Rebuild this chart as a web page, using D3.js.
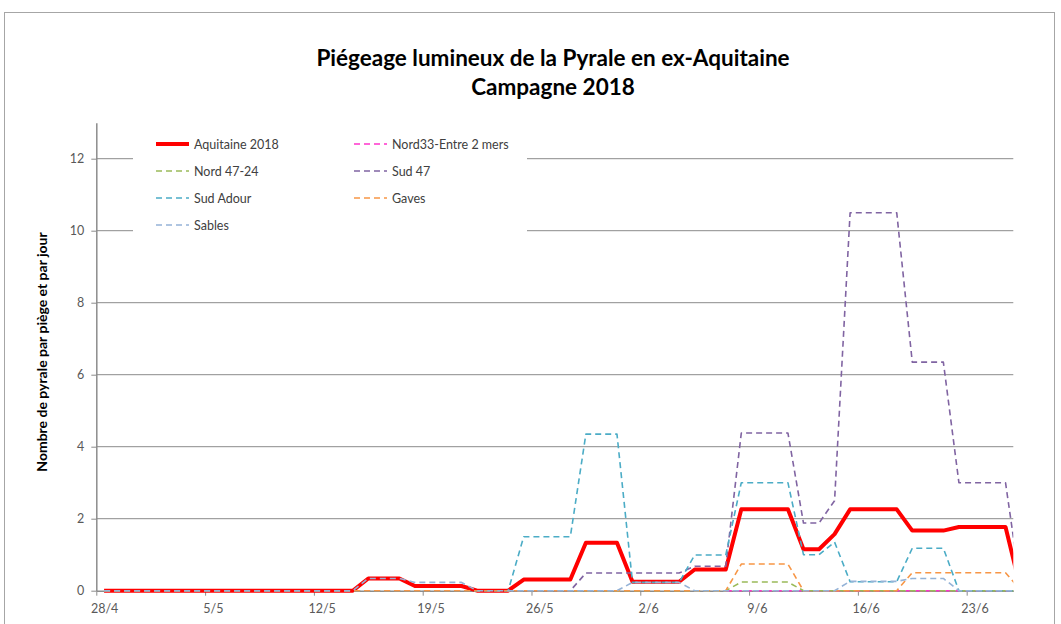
<!DOCTYPE html>
<html>
<head>
<meta charset="utf-8">
<script src="https://cdnjs.cloudflare.com/ajax/libs/d3/7.8.5/d3.min.js"></script>
<style>
    body { margin: 0; background: #fff; }
    svg { font-family: Lato, "Open Sans", sans-serif; }
</style>
</head>
<body>
<div id="chart"></div>
<script>
var titleLines = ["Piégeage lumineux de la Pyrale en ex-Aquitaine", "Campagne 2018"];
var yLabel = "Nombre de pyrale par piège et par jour";

var seriesNames = ["Aquitaine 2018", "Nord33-Entre 2 mers", "Nord 47-24", "Sud 47", "Sud Adour", "Gaves", "Sables"];
var seriesColors = ["#ff0000", "#ff33cc", "#9bbb59", "#8064a2", "#4bacc6", "#f79646", "#95b3d7"];
var yTicks = [0, 2, 4, 6, 8, 10, 12];

// one value per day, 28/4 -> 26/6
var aquitaine = [0, 0, 0, 0, 0, 0, 0, 0, 0, 0, 0, 0, 0, 0, 0, 0, 0,
    0.34, 0.34, 0.34, 0.13, 0.13, 0.13, 0.13, 0, 0, 0,
    0.31, 0.31, 0.31, 0.31, 1.33, 1.33, 1.33, 0.25, 0.25, 0.25, 0.25,
    0.59, 0.59, 0.59, 2.26, 2.26, 2.26, 2.26, 1.15, 1.15, 1.57,
    2.26, 2.26, 2.26, 2.26, 1.67, 1.67, 1.67, 1.77, 1.77, 1.77, 1.77, 0];
var nord33 = [null, null, null, null, null, null, null, null, null, null,
    null, null, null, null, null, null, null, null, null, null,
    null, null, null, null, null, null, null, null, null, null,
    null, null, null, null, null, null, null, null, null, null,
    0, 0, 0, 0, 0, 0, 0, 0, 0, 0, 0, 0, 0, 0, 0, 0, 0, 0, 0, 0];
var nord4724 = [0, 0, 0, 0, 0, 0, 0, 0, 0, 0, 0, 0, 0, 0, 0, 0, 0, 0, 0, 0,
    0, 0, 0, 0, 0, 0, 0, 0, 0, 0, 0, 0, 0, 0, 0, 0, 0, 0, 0, 0, 0,
    0.24, 0.24, 0.24, 0.24, 0, 0, 0, 0, 0, 0, 0, 0, 0, 0, 0, 0, 0, 0, 0, 0];
var sud47 = [0, 0, 0, 0, 0, 0, 0, 0, 0, 0, 0, 0, 0, 0, 0, 0, 0, 0, 0, 0,
    0, 0, 0, 0, 0, 0, 0, 0, 0, 0, 0,
    0.49, 0.49, 0.49, 0.49, 0.49, 0.49, 0.49, 0.68, 0.68, 0.68,
    4.38, 4.38, 4.38, 4.38, 1.88, 1.88, 2.5,
    10.5, 10.5, 10.5, 10.5, 6.35, 6.35, 6.35, 3.0, 3.0, 3.0, 3.0, 0];
var sudAdour = [0, 0, 0, 0, 0, 0, 0, 0, 0, 0, 0, 0, 0, 0, 0, 0, 0, 0, 0, 0,
    0, 0, 0, 0, 0, 0, 0,
    1.5, 1.5, 1.5, 1.5, 4.35, 4.35, 4.35, 0.23, 0.23, 0.23, 0.23,
    0.99, 0.99, 0.99, 3.0, 3.0, 3.0, 3.0, 1.0, 1.0, 1.35,
    0.25, 0.25, 0.25, 0.25, 1.18, 1.18, 1.18, 0, 0, 0, 0, 0];
var gaves = [0, 0, 0, 0, 0, 0, 0, 0, 0, 0, 0, 0, 0, 0, 0, 0, 0, 0, 0, 0,
    0, 0, 0, 0, 0, 0, 0, 0, 0, 0, 0, 0, 0, 0, 0, 0, 0, 0, 0, 0, 0,
    0.74, 0.74, 0.74, 0.74, 0, 0, 0, 0, 0, 0, 0,
    0.5, 0.5, 0.5, 0.5, 0.5, 0.5, 0.5, 0];
var sables = [0, 0, 0, 0, 0, 0, 0, 0, 0, 0, 0, 0, 0, 0, 0, 0, 0,
    0.34, 0.34, 0.34, 0.23, 0.23, 0.23, 0.23,
    0, 0, 0, 0, 0, 0, 0, 0, 0, 0,
    0.23, 0.23, 0.23, 0.23,
    0, 0, 0, 0, 0, 0, 0, 0, 0, 0,
    0.26, 0.26, 0.26, 0.26, 0.34, 0.34, 0.34, 0, 0, 0, 0, 0];

var allSeries = [aquitaine, nord33, nord4724, sud47, sudAdour, gaves, sables];

var startDay = new Date(2018, 3, 28),
    endDay = new Date(2018, 5, 26);
var days = d3.timeDay.range(startDay, d3.timeDay.offset(endDay, 1));
var tickDates = d3.timeDay.range(startDay, endDay, 7);

var width = 1061, height = 624;
var plot = { left: 96.3, right: 1013.3, top: 122.7, bottom: 590.7 };

var svg = d3.select("#chart").append("svg")
    .attr("width", width)
    .attr("height", height);

svg.append("rect")
    .attr("x", 4.5).attr("y", 12.5)
    .attr("width", 1050).attr("height", 700)
    .attr("fill", "#fff")
    .attr("stroke", "#a6a6a6");

var x = d3.scaleTime()
    .domain([startDay, endDay])
    .range([plot.left, plot.right]);

var y = d3.scaleLinear()
    .domain([0, 13])
    .range([plot.bottom, plot.top]);

var halfDay = x(d3.timeHour.offset(startDay, 12)) - x(startDay);

// title
svg.append("g").selectAll("text")
    .data(titleLines).enter()
    .append("text")
    .attr("x", 553)
    .attr("y", function(d, i) { return 66 + i * 29; })
    .attr("text-anchor", "middle")
    .attr("font-size", 22.5)
    .attr("font-weight", "bold")
    .attr("fill", "#000")
    .text(function(d) { return d; });

// gridlines
svg.append("g").selectAll("line")
    .data(yTicks.filter(function(d) { return d > 0; })).enter()
    .append("line")
    .attr("x1", plot.left).attr("x2", plot.right)
    .attr("y1", function(d) { return y(d); })
    .attr("y2", function(d) { return y(d); })
    .attr("stroke", "#8c8c8c")
    .attr("stroke-width", 1);

// axes
var yAxis = svg.append("g")
    .attr("transform", "translate(" + plot.left + ",0)")
    .call(d3.axisLeft(y).tickValues(yTicks).tickSize(5).tickSizeOuter(0).tickPadding(7));

var xAxis = svg.append("g")
    .attr("transform", "translate(0," + plot.bottom + ")")
    .call(d3.axisBottom(x).tickValues(tickDates).tickSize(5).tickSizeOuter(0).tickPadding(8)
        .tickFormat(d3.timeFormat("%-d/%-m")));

xAxis.selectAll("text").attr("dx", halfDay);

[xAxis, yAxis].forEach(function(ax) {
    ax.select(".domain").attr("stroke", "#8c8c8c").attr("stroke-width", 1.5);
    ax.selectAll(".tick line").attr("stroke", "#8c8c8c");
    ax.selectAll("text").attr("fill", "#595959").attr("font-size", 12.5)
        .attr("font-family", "Lato, 'Open Sans', sans-serif");
});

svg.append("text")
    .attr("transform", "translate(47,352) rotate(-90)")
    .attr("text-anchor", "middle")
    .attr("font-size", 14)
    .attr("font-weight", "bold")
    .attr("fill", "#000")
    .text(yLabel);

// series
svg.append("clipPath").attr("id", "plotClip")
    .append("rect")
    .attr("x", plot.left).attr("y", 0)
    .attr("width", plot.right - plot.left).attr("height", plot.bottom + 10);

var line = d3.line()
    .defined(function(d) { return d !== null; })
    .x(function(d, i) { return x(days[i]) + halfDay; })
    .y(function(d) { return y(d); });

svg.append("g")
    .attr("clip-path", "url(#plotClip)")
    .selectAll("path")
    .data(allSeries).enter()
    .append("path")
    .attr("fill", "none")
    .attr("stroke", function(d, i) { return seriesColors[i]; })
    .attr("stroke-width", function(d, i) { return i === 0 ? 4 : 1.6; })
    .attr("stroke-dasharray", function(d, i) { return i === 0 ? null : "6,4"; })
    .attr("stroke-linejoin", "round")
    .attr("d", line);

// legend
var legend = svg.append("g");
legend.append("rect")
    .attr("x", 133).attr("y", 129)
    .attr("width", 394).attr("height", 110)
    .attr("fill", "#fff");

var item = legend.selectAll("g.item")
    .data(seriesNames).enter()
    .append("g")
    .attr("class", "item")
    .attr("transform", function(d, i) {
        return "translate(" + (i % 2 === 0 ? 156 : 354) + "," + (144 + Math.floor(i / 2) * 27) + ")";
    });

item.append("line")
    .attr("x1", 0).attr("x2", 33)
    .attr("y1", 0).attr("y2", 0)
    .attr("stroke", function(d, i) { return seriesColors[i]; })
    .attr("stroke-width", function(d, i) { return i === 0 ? 4 : 1.6; })
    .attr("stroke-dasharray", function(d, i) { return i === 0 ? null : "6,4"; });

item.append("text")
    .attr("x", 38)
    .attr("y", 4.5)
    .attr("font-size", 12.5)
    .attr("fill", "#404040")
    .text(function(d) { return d; });
</script>
</body>
</html>
